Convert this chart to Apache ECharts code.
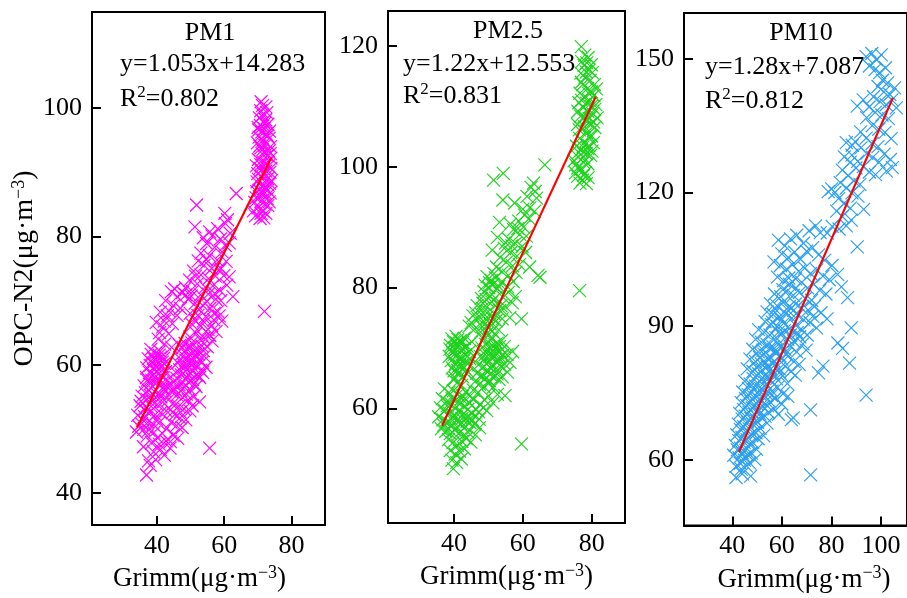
<!DOCTYPE html>
<html>
<head>
<meta charset="utf-8">
<script src="https://cdn.jsdelivr.net/npm/echarts@6/dist/echarts.min.js"></script>
<style>
  html, body { margin: 0; padding: 0; background: #fff; }
  #chart { width: 907px; height: 598px; }
</style>
</head>
<body>
<div id="chart"></div>
<script>
// Grimm (x) vs OPC-N2 (y) concentrations, µg/m³
const pm1Points = [
  // high-concentration column
  [71.0,101.0],[70.5,98.5],[71.5,99.0],[72.3,98.2],[70.8,97.3],[71.9,96.8],[73.0,97.5],[72.5,96.0],[70.4,95.5],[71.6,95.0],
  [73.4,95.3],[72.1,94.2],[70.9,93.8],[73.8,94.0],[71.3,92.9],[72.8,92.6],[70.2,92.0],[71.8,91.5],[73.2,91.0],[72.4,90.2],
  [70.6,90.6],[73.9,92.2],[71.1,89.4],[72.9,89.0],[69.8,88.5],[71.7,88.0],[73.5,88.3],[70.4,87.2],[72.2,86.8],[69.5,86.0],
  [71.0,85.5],[72.8,85.9],[73.7,86.8],[70.1,84.5],[71.5,84.0],[69.3,83.2],[72.4,83.6],[70.7,82.8],[73.0,84.8],[71.9,87.5],
  [70.0,89.8],[72.6,91.4],[71.4,93.5],[72.0,97.6],[70.9,99.6],[73.3,93.3],[69.9,94.6],[71.2,96.3],[72.7,99.3],[73.6,90.0],
  [74.0,88.7],[69.1,85.3],[68.7,84.0],
  [70.3,96.6],[71.7,97.9],[72.9,95.7],[70.6,94.1],[72.2,93.1],[73.7,92.9],[70.9,91.2],[72.0,89.8],[73.1,88.0],[70.2,88.9],
  [71.3,86.9],[72.6,87.4],[69.7,87.0],[71.0,83.6],[72.1,85.0],[73.4,85.4],[70.5,86.2],[71.8,82.9],[69.6,91.0],[73.9,90.6],
  [72.4,100.2],[71.4,100.4],[70.1,97.0],[73.5,96.4],[71.2,90.3],
  // upper band
  [51.8,84.9],[51.3,81.5],[63.6,86.7],[60.2,83.6],[61.0,82.6],[60.4,82.0],[55.7,80.7],[58.9,79.6],[60.3,78.6],[61.5,79.0],
  [59.4,77.6],[57.2,78.3],[54.8,78.9],[53.1,77.4],[55.6,77.0],[57.9,76.3],[60.6,76.1],[52.3,76.2],[54.0,75.5],[56.3,75.0],
  [58.6,74.8],[50.9,74.6],[53.1,74.0],[55.4,73.4],[57.4,73.8],[59.9,73.9],[49.7,73.2],[52.0,72.6],[54.4,72.1],[56.6,72.3],
  [62.6,70.6],[58.7,71.6],[60.8,72.4],[48.5,72.0],[50.6,71.4],[53.0,70.9],[55.3,71.0],[57.5,70.2],
  [53.8,79.8],[56.4,80.1],[58.1,81.2],[61.8,80.5],[59.0,75.0],[54.7,76.4],[51.5,73.8],
  // middle
  [44.3,71.4],[46.1,70.6],[47.6,71.3],[49.3,70.2],[51.4,69.6],[53.7,69.2],[55.8,68.8],[58.1,68.3],[42.6,70.0],[44.9,69.2],
  [47.0,68.8],[49.9,68.0],[52.2,67.7],[54.5,67.5],[56.9,67.0],[59.3,66.8],[41.0,68.2],[43.1,67.6],[44.6,66.4],[50.6,66.2],
  [53.0,66.0],[55.2,65.5],[57.6,65.2],[39.8,66.6],[41.7,65.9],[43.5,64.8],[49.8,64.3],[51.7,64.9],[54.0,64.2],[56.4,63.7],
  [55.7,64.6],[40.4,64.0],[42.3,63.2],[44.4,62.7],
  [45.3,71.8],[48.6,70.9],[50.2,70.7],[52.6,68.6],[54.8,69.9],[57.0,68.0],[43.6,68.4],[46.0,67.7],[51.4,66.9],[53.8,66.8],
  [56.3,66.1],[58.5,67.6],[42.2,66.8],[40.8,65.0],[52.8,64.0],[50.4,63.4],[55.0,62.8],[57.2,71.1],[59.0,70.0],[61.5,73.7],
  // left band
  [38.2,62.4],[39.6,61.8],[40.9,62.1],[42.0,61.0],[37.4,60.9],[38.8,60.3],[40.2,60.6],[41.5,59.8],[39.1,59.2],[37.8,58.8],
  [40.6,58.6],[42.6,58.9],[36.9,58.0],[38.5,57.6],[39.9,57.3],[41.3,57.0],[43.1,57.6],[36.2,56.7],[37.7,56.0],[39.3,55.8],
  [40.8,55.5],[42.4,55.9],[35.6,55.1],[37.1,54.6],[38.6,54.3],[40.1,53.8],[41.7,54.2],[43.4,54.5],[35.0,53.6],[36.4,53.0],
  [37.9,52.6],[39.5,52.2],[41.1,52.5],[42.8,52.8],[34.3,52.1],[35.8,51.4],[37.3,51.0],[38.9,50.7],[40.5,50.9],[34.6,50.4],
  [36.1,49.9],[33.9,49.5],[44.1,53.0],[44.6,56.2],[39.0,61.0],[41.2,61.2],[37.0,59.5],[40.0,59.0],[38.0,57.0],[41.8,56.4],
  [38.3,61.6],[39.4,60.8],[40.7,61.5],[41.6,60.4],[38.0,59.9],[39.5,59.8],[40.9,59.4],[42.2,60.2],[37.2,57.6],[38.9,58.3],
  [40.3,57.9],[41.9,58.0],[36.6,55.6],[38.1,55.2],[39.6,54.9],[41.2,55.0],[42.9,56.6],[35.3,54.3],[36.8,53.4],[38.3,53.5],
  [39.9,51.5],[37.6,49.8],[35.4,50.8],
  // right band
  [46.8,63.0],[48.4,63.3],[50.1,62.8],[51.8,62.4],[53.4,62.9],[47.4,61.7],[49.2,61.4],[50.8,61.0],[52.5,60.8],[54.1,61.3],
  [46.2,60.3],[48.0,60.0],[49.7,59.6],[51.3,59.3],[53.0,59.1],[54.6,59.6],[45.6,58.8],[47.3,58.4],[48.9,58.0],[50.6,57.7],
  [52.3,58.3],[52.7,58.0],[45.0,57.3],[46.6,56.9],[48.2,56.5],[49.9,56.1],[51.6,56.6],[44.4,55.8],[46.0,55.3],[47.6,54.9],
  [49.3,54.5],[52.7,54.2],[50.9,55.0],[44.9,54.0],[46.5,53.5],[48.1,53.1],[49.8,52.8],[45.3,52.2],[46.9,51.7],[48.6,51.4],
  [44.2,51.0],[45.8,50.5],[47.5,50.2],[55.7,64.6],[50.0,60.2],[51.5,61.6],[48.5,59.0],[53.5,60.4],
  [47.5,62.6],[49.0,62.4],[50.6,62.0],[52.3,61.7],[47.0,60.9],[48.6,60.7],[50.3,60.4],[51.9,60.0],[53.8,62.2],[46.8,59.2],
  [48.3,59.6],[49.9,58.7],[51.7,58.4],[53.6,58.8],[45.9,57.9],[47.8,57.2],[49.4,57.3],[51.1,57.0],[45.4,56.1],[47.1,55.9],
  [48.8,55.4],[50.5,53.6],[47.0,52.6],[44.7,52.6],
  // low tail and outliers
  [43.9,47.0],[39.0,46.4],[36.9,42.8],[37.5,45.0],[38.4,47.8],[40.2,48.6],[41.6,49.3],[42.7,48.1],[44.8,49.0],[46.2,48.5],
  [38.0,44.3],[39.6,45.2],[41.0,46.8],[42.2,45.9],[37.1,48.9],[36.0,47.2],[40.7,47.6],[43.0,50.1],[39.1,49.4],[36.3,51.9],
  [44.0,48.0],[55.7,47.0],[72.0,68.3]
];

const pm25Points = [
  // high-concentration column
  [77.0,119.9],[77.8,116.8],[78.6,117.2],[79.3,116.0],[76.9,115.5],[78.1,114.8],[79.6,114.3],[80.2,115.6],[77.4,113.6],[78.8,113.0],
  [80.0,112.4],[76.6,112.2],[77.9,111.5],[79.3,111.0],[80.6,111.8],[81.2,110.3],[76.3,110.6],[77.6,109.8],[78.9,109.2],[80.3,108.8],
  [81.6,108.1],[76.8,108.4],[78.2,107.7],[79.6,107.1],[80.9,106.5],[75.9,107.0],[77.3,106.2],[78.6,105.6],[80.0,105.1],[76.5,104.7],
  [77.9,104.0],[79.2,103.5],[75.6,103.4],[77.0,102.8],[78.4,102.2],[79.7,101.9],[76.1,101.6],[77.5,100.8],[78.9,100.5],[75.4,100.3],
  [76.8,99.6],[78.1,99.0],[75.9,98.4],[77.3,97.8],[78.5,97.2],[80.8,113.6],[81.4,112.9],[79.0,118.1],[78.0,118.5],[80.5,104.0],
  [74.9,101.0],[75.3,99.0],
  [77.1,117.4],[79.9,116.9],[78.4,115.7],[77.0,114.0],[79.1,112.2],[80.9,109.5],[77.1,111.0],[78.6,110.5],[79.9,110.0],[76.0,109.2],
  [77.8,108.3],[79.3,108.0],[80.6,107.4],[76.4,106.1],[78.0,106.6],[79.3,105.0],[77.5,103.3],[78.9,103.0],[76.2,102.4],[80.1,102.6],
  [77.6,101.6],[76.0,99.8],[77.7,98.6],[79.0,98.2],[76.6,97.3],
  // upper band
  [51.5,97.8],[54.3,98.9],[66.4,100.3],[54.2,94.5],[57.6,94.0],[63.1,97.3],[63.6,95.9],[62.4,96.6],[61.2,95.1],[64.0,94.8],
  [62.0,93.2],[60.5,92.0],[61.8,91.4],[63.4,92.6],[58.8,91.0],[60.2,90.0],[57.3,89.6],[59.1,88.8],[61.0,88.5],[55.9,88.0],
  [57.8,87.3],[59.8,86.8],[54.6,86.5],[56.5,85.8],[58.3,85.2],[60.8,85.8],[62.0,83.4],[65.0,81.7],[53.4,85.0],[55.2,84.2],
  [57.0,83.6],[52.3,83.4],[54.0,82.6],[55.8,82.0],[58.0,82.5],[56.4,90.5],[53.2,90.8],[52.6,88.3],[51.1,86.2],
  [55.6,80.1],[57.2,81.0],[59.0,83.8],[56.8,86.9],[55.0,87.4],[58.6,89.8],[60.0,93.0],
  // middle
  [49.6,81.8],[50.8,81.2],[52.0,81.6],[51.3,80.5],[50.1,80.0],[52.6,79.8],[48.7,79.3],[53.8,80.9],[47.9,78.2],[49.4,78.0],
  [51.0,77.6],[52.6,77.3],[54.2,78.4],[55.8,79.2],[46.7,77.0],[48.3,76.5],[49.9,76.0],[51.6,75.7],[53.3,76.2],[55.0,76.8],
  [56.9,77.5],[45.5,75.3],[47.1,74.8],[48.8,74.3],[50.5,74.0],[52.2,74.5],[54.0,74.8],[59.6,74.8],[64.4,82.0],[44.4,73.6],
  [46.0,73.1],[47.7,72.6],[49.4,72.3],[51.1,72.8],[53.0,73.0],[56.2,75.0],[57.8,78.5],
  [50.3,80.8],[51.6,82.3],[53.0,80.2],[49.0,80.4],[48.4,77.4],[50.5,78.6],[52.0,78.3],[53.6,77.0],[46.3,75.8],[47.9,75.6],
  [49.6,75.1],[51.4,74.8],[45.0,74.2],[48.2,73.5],[50.0,73.3],
  // left cluster
  [39.4,71.5],[40.6,71.9],[41.8,71.2],[43.0,71.6],[39.0,70.4],[40.2,70.0],[41.4,70.5],[42.6,69.8],[43.8,70.3],[39.6,69.2],
  [40.9,68.8],[42.1,68.4],[43.3,68.9],[44.5,69.4],[39.2,67.9],[40.4,67.4],[41.6,67.1],[42.9,66.7],[44.1,67.6],[40.0,66.2],
  [41.2,65.8],[42.5,65.2],[43.7,65.7],[39.7,64.8],[41.0,64.3],[42.2,63.8],[45.2,71.0],[38.6,68.6],[40.8,70.8],[41.9,69.6],
  [39.8,71.0],[41.1,71.4],[42.4,70.9],[40.0,68.9],[41.4,68.3],[42.8,68.0],[39.5,66.7],[41.0,66.3],[42.3,67.2],[43.6,66.3],
  [40.4,65.0],[44.6,68.2],[38.8,69.8],[43.2,70.0],
  // right cluster
  [48.6,71.4],[49.9,71.0],[51.2,71.6],[52.5,70.8],[53.8,71.2],[48.1,70.0],[49.4,69.6],[50.7,69.2],[52.0,69.9],[53.3,69.4],
  [54.6,70.2],[47.6,68.6],[48.9,68.2],[50.2,67.8],[51.5,68.5],[52.8,68.0],[54.1,68.7],[55.4,68.9],[47.1,67.2],[48.4,66.8],
  [49.7,66.4],[51.0,67.0],[52.3,66.6],[53.6,66.9],[46.6,65.8],[47.9,65.4],[49.2,65.0],[50.5,65.6],[51.8,65.2],[53.1,64.8],
  [46.1,64.4],[47.4,64.0],[48.7,63.6],[50.0,64.1],[51.4,63.5],[54.8,62.1],[45.6,63.0],[47.0,62.6],[56.3,67.6],[57.0,69.4],
  [49.2,70.6],[50.5,70.1],[51.9,70.5],[53.2,70.2],[49.0,68.9],[50.4,68.6],[51.8,69.0],[53.4,68.5],[49.5,67.3],[50.8,66.6],
  [52.6,67.6],[54.7,67.3],[48.2,65.2],[50.2,64.6],[52.5,65.7],[55.5,66.0],[54.0,65.2],
  // lower band
  [37.2,63.2],[38.5,62.6],[39.8,62.9],[41.1,62.3],[43.4,62.7],[44.6,62.0],[36.6,61.6],[37.9,61.1],[39.2,60.7],[40.5,61.3],
  [41.8,60.8],[43.1,60.4],[44.4,60.9],[45.7,61.5],[36.0,60.1],[37.3,59.6],[38.6,59.2],[39.9,58.8],[41.2,59.5],[42.5,59.0],
  [43.8,58.6],[45.1,59.2],[46.4,59.8],[35.5,58.6],[36.8,58.1],[38.1,57.7],[39.4,57.3],[40.7,57.9],[42.0,57.4],[43.3,57.0],
  [44.6,57.6],[47.6,60.6],[48.8,61.4],[50.0,62.0],[36.3,56.6],[37.6,56.2],[38.9,55.8],[40.2,56.4],[41.5,55.9],[42.8,55.5],
  [44.1,56.0],[46.0,57.4],[47.3,58.2],[49.5,59.6],[51.3,60.9],[52.6,62.3],
  [38.0,60.4],[39.4,61.6],[40.8,60.2],[42.2,61.6],[39.2,58.2],[40.6,58.6],[42.3,58.3],[44.0,59.8],[37.0,57.2],[38.5,56.6],
  [41.0,56.8],[43.8,57.8],[45.3,58.1],[47.2,59.4],[48.6,60.1],[42.5,62.0],
  // low tail and outliers
  [38.4,54.8],[39.7,54.3],[41.0,53.9],[42.3,54.5],[43.6,55.0],[44.9,54.4],[38.9,53.0],[40.3,52.4],[41.6,52.9],[43.0,53.3],
  [39.4,51.4],[40.8,51.0],[42.1,51.6],[39.8,50.0],[46.2,55.6],[47.4,56.8],[59.6,54.1],[76.5,79.5]
];

const pm10Points = [
  // top
  [94.0,150.5],[96.3,151.2],[98.2,149.8],[100.1,150.9],[95.3,148.4],[97.6,147.6],[99.5,146.9],[101.8,148.0],[100.6,145.2],[102.7,144.6],
  [98.8,143.8],[101.2,142.6],[103.6,142.0],[97.0,141.5],[99.6,140.4],[102.1,139.7],[104.4,140.8],[105.5,143.5],[95.2,139.2],[97.7,138.0],
  [100.4,137.4],[103.0,136.6],[92.8,140.8],[106.2,139.0],[90.4,139.4],[94.2,136.8],[96.5,135.0],[99.1,134.2],[101.6,133.5],[104.1,132.1],
  [91.8,133.6],[94.0,132.2],[96.4,131.0],[98.8,130.3],[101.3,128.6],[103.8,127.4],[89.6,131.4],[91.9,130.0],[94.3,128.8],[96.7,127.9],
  [99.2,126.8],[88.3,128.4],[90.6,127.0],[92.9,125.8],[95.3,124.6],[97.8,124.0],[102.2,124.8],[104.6,125.6],
  // middle
  [86.0,131.2],[88.4,130.6],[85.2,128.0],[87.6,126.8],[89.9,125.5],[84.4,125.0],[86.8,123.8],[89.1,122.6],[91.5,121.8],[83.6,122.2],
  [86.0,121.0],[88.3,119.9],[90.7,119.2],[93.0,116.2],[78.7,120.2],[80.1,120.8],[81.4,120.0],[82.9,118.6],[85.2,117.6],[87.6,116.5],
  [82.1,115.8],[84.4,114.6],[88.0,113.8],[80.3,112.4],[83.1,111.8],[86.0,112.5],[90.4,107.8],
  // lower-middle
  [58.6,109.3],[61.2,108.0],[63.5,109.6],[66.0,110.4],[68.7,108.6],[73.6,112.5],[75.5,111.0],[78.3,110.9],[71.0,111.4],[60.0,106.2],
  [62.6,105.4],[65.1,106.6],[67.5,105.0],[70.0,106.8],[72.4,107.6],[74.8,106.0],[77.3,104.8],[80.2,103.6],[56.8,104.4],[59.4,103.6],
  [61.9,102.8],[64.3,103.8],[66.8,102.3],[69.2,103.0],[71.6,101.8],[74.1,102.6],[76.6,101.2],[79.1,100.4],[82.5,101.6],[58.2,101.0],
  [60.7,100.2],[63.1,99.4],[65.6,100.6],[68.0,99.8],[70.4,98.6],[72.9,99.4],[75.3,98.0],[77.8,97.2],[84.0,98.8],[86.5,96.4],
  // main body
  [57.0,97.2],[59.5,96.6],[62.0,97.8],[64.6,96.9],[67.1,97.5],[69.5,96.2],[72.0,95.8],[55.4,95.0],[58.0,94.6],[60.5,95.3],
  [63.0,94.4],[65.5,95.0],[68.0,94.0],[70.6,93.6],[73.1,94.4],[75.8,93.0],[54.0,93.2],[56.5,92.6],[59.0,92.1],[61.5,92.9],
  [64.0,91.8],[66.4,92.4],[68.9,91.4],[71.4,90.8],[78.2,91.6],[53.2,91.0],[55.7,90.4],[58.2,89.9],[60.7,90.6],[63.2,89.5],
  [65.7,90.1],[68.2,89.1],[74.0,89.6],
  [58.5,88.6],[61.0,89.0],[63.4,88.0],[56.2,90.9],[59.8,91.4],[62.7,93.4],[57.3,93.8],[64.8,93.6],[60.4,98.2],[62.8,100.8],
  [65.7,98.6],[66.2,88.5],[68.5,86.0],[70.2,88.0],[72.5,92.2],[69.8,84.6],[67.0,81.4],[65.4,79.0],[62.2,77.1],[60.0,72.5],
  [58.6,70.2],[62.4,74.2],
  [50.6,89.2],[52.9,88.6],[55.2,88.0],[57.6,87.4],[60.0,88.2],[62.4,87.0],[64.8,86.6],[67.2,87.6],[49.4,87.0],[51.7,86.4],
  [54.0,85.9],[56.4,85.3],[58.8,86.0],[61.2,84.8],[63.6,85.4],[66.0,84.2],[48.2,84.8],[50.5,84.2],[52.8,83.7],[55.2,83.1],
  [57.6,83.9],[60.0,82.6],[62.4,83.2],[64.9,82.0],[76.6,81.0],[47.1,82.6],[49.4,82.0],[51.7,81.5],[54.1,80.9],[56.5,81.7],
  [58.9,80.4],[61.3,81.0],[63.7,79.8],[46.0,80.4],[48.3,79.8],[50.6,79.3],[53.0,78.7],[55.4,79.5],[57.8,78.2],[60.2,78.8],
  [55.0,85.0],[57.3,84.5],[59.6,85.2],[52.4,84.6],[54.7,82.4],[56.9,82.1],[59.2,83.3],[61.7,83.8],[51.0,82.9],[53.3,81.9],
  [55.6,80.4],[57.9,80.8],[49.7,80.8],[52.0,80.1],[54.3,78.5],[56.7,79.2],[59.1,79.6],
  [88.0,89.6],[82.6,86.2],[84.5,85.0],[87.3,81.7],[74.8,79.5],
  [45.0,77.6],[47.2,77.0],[49.4,76.5],[51.6,75.9],[53.8,76.8],[56.0,75.4],[58.2,76.2],[44.2,75.2],[46.4,74.6],[48.6,74.1],
  [50.8,73.5],[53.0,74.3],[55.2,73.0],[57.4,73.8],[60.5,74.8],[43.6,72.8],[45.8,72.2],[48.0,71.6],[50.2,71.1],[52.4,71.9],
  [54.6,70.6],[56.8,71.4],[43.0,70.4],[45.2,69.8],[47.4,69.3],[49.6,68.7],[51.8,69.5],[54.0,68.2],[42.4,68.0],[44.6,67.4],
  [46.8,66.9],[49.0,66.3],[51.2,67.1],[64.6,69.4],[71.6,71.2],[63.8,69.0],
  [48.4,78.2],[50.9,77.7],[53.1,77.4],[55.3,77.9],[57.0,76.9],[46.5,76.0],[48.8,75.6],[51.0,74.8],[53.5,75.0],[55.8,74.4],
  [45.3,73.7],[47.5,73.1],[49.8,72.6],[52.0,73.2],[54.2,72.1],[44.5,71.3],[46.7,70.7],[48.9,70.2],[51.1,70.3],[53.2,69.8],
  [44.0,69.1],[46.1,68.5],[48.2,68.0],[50.2,68.4],[43.2,66.8],[45.3,66.3],[47.5,65.7],[49.6,66.0],
  [41.8,65.6],[43.9,65.0],[46.0,64.5],[48.2,63.9],[50.4,64.7],[52.6,65.4],[41.2,63.2],[43.3,62.6],[45.4,62.1],[47.6,61.5],
  [49.8,62.3],[40.6,61.0],[42.7,60.4],[44.8,59.9],[47.0,59.3],[49.1,60.0],[41.5,58.5],[43.6,57.9],[45.7,58.6],[41.5,56.0],
  [47.4,56.3],[44.0,56.8],[42.6,64.3],[44.8,63.9],[46.9,63.5],[42.0,62.2],[44.0,61.6],[46.2,61.1],[43.2,59.2],[45.1,60.6],
  // outliers
  [94.0,74.5],[71.6,56.6]
];

// Panel labels, fit coefficients, R² and the x-span of each fitted line
const panelTitles = ['PM1', 'PM2.5', 'PM10'];
const fitSlopes = [1.053, 1.22, 1.28];
const fitIntercepts = [14.283, 12.553, 7.087];
const fitR2 = ['0.802', '0.831', '0.812'];
const fitXSpans = [[34.1, 74.1], [36.5, 81.2], [42.7, 104.8]];

// Axis extents and tick values
const xExtents = [[20.7, 90], [20.8, 89.7], [20.5, 110.5]];
const yExtents = [[35, 115], [41, 125.8], [45.2, 160.3]];
const xTickValues = [[40, 60, 80], [40, 60, 80], [40, 60, 80, 100]];
const yTickValues = [[40, 60, 80, 100], [60, 80, 100, 120], [60, 90, 120, 150]];

const markerColors = ['#FF00FF', '#1ED21E', '#2A9FF0'];

const FONT = "'Liberation Serif', 'Times New Roman', serif";
const CROSS_HALF = 6.5;

const grids = [
  { left: 92, top: 12, width: 233, height: 513 },
  { left: 388, top: 11, width: 237, height: 512 },
  { left: 684, top: 13, width: 230, height: 513 }
];
const xNamePadding = [[0, 18, 0, 0], [0, 0, 0, 0], [0, 0, 0, 17]];
const textBlocks = [
  { cx: 210, titleY: 33, left: 120, eqY: 64, r2Y: 99 },
  { cx: 508, titleY: 31, left: 403, eqY: 64, r2Y: 96 },
  { cx: 801, titleY: 33, left: 705, eqY: 67, r2Y: 101 }
];

const supRich = {
  s: { fontSize: 18, fontFamily: FONT, color: '#000', verticalAlign: 'top', lineHeight: 30 }
};

const axisCommon = {
  axisLine: { show: true, onZero: false, lineStyle: { color: '#000', width: 2 } },
  axisTick: { show: true, inside: true, length: 9, lineStyle: { color: '#000', width: 2 } },
  splitLine: { show: false }
};

const xAxes = grids.map((g, i) => Object.assign({}, axisCommon, {
  type: 'value', gridIndex: i,
  min: xExtents[i][0], max: xExtents[i][1],
  axisTick: Object.assign({}, axisCommon.axisTick, { customValues: xTickValues[i] }),
  axisLabel: { customValues: xTickValues[i], fontSize: 26, fontFamily: FONT, color: '#000', margin: 8 },
  name: 'Grimm(μg·m{s|−3})',
  nameLocation: 'middle', nameGap: 37,
  nameTextStyle: { fontSize: 27, fontFamily: FONT, color: '#000', padding: xNamePadding[i], rich: supRich }
}));

const yAxes = grids.map((g, i) => Object.assign({}, axisCommon, {
  type: 'value', gridIndex: i,
  min: yExtents[i][0], max: yExtents[i][1],
  axisTick: Object.assign({}, axisCommon.axisTick, { customValues: yTickValues[i] }),
  axisLabel: { customValues: yTickValues[i], fontSize: 26, fontFamily: FONT, color: '#000', margin: 10 },
  name: i === 0 ? 'OPC-N2(μg·m{s|−3})' : '',
  nameLocation: 'middle', nameGap: 39,
  nameTextStyle: { fontSize: 28, fontFamily: FONT, color: '#000', rich: supRich }
}));

const pointSets = [pm1Points, pm25Points, pm10Points];

// Each sample is drawn as an open "×" centred on its data coordinate
function crossRenderer(color) {
  return function (params, api) {
    const p = api.coord([api.value(0), api.value(1)]);
    const h = CROSS_HALF;
    const style = { stroke: color, lineWidth: 1.15, fill: null };
    return {
      type: 'group',
      children: [
        { type: 'line', shape: { x1: p[0] - h, y1: p[1] - h, x2: p[0] + h, y2: p[1] + h }, style: style },
        { type: 'line', shape: { x1: p[0] - h, y1: p[1] + h, x2: p[0] + h, y2: p[1] - h }, style: style }
      ]
    };
  };
}

const series = [];
pointSets.forEach((pts, i) => {
  series.push({
    type: 'custom', xAxisIndex: i, yAxisIndex: i, data: pts,
    renderItem: crossRenderer(markerColors[i]), silent: true, z: 2, clip: false
  });
});
pointSets.forEach((pts, i) => {
  const fitLine = fitXSpans[i].map(x => [x, fitSlopes[i] * x + fitIntercepts[i]]);
  series.push({
    type: 'line', xAxisIndex: i, yAxisIndex: i, data: fitLine,
    symbol: 'none', silent: true, z: 3,
    lineStyle: { color: '#FF0000', width: 2.2 }
  });
});

const graphics = [];
textBlocks.forEach((b, i) => {
  graphics.push({
    type: 'text', x: b.cx, y: b.titleY, z: 10,
    style: { text: panelTitles[i], fontSize: 26, fontFamily: FONT, fill: '#000', align: 'center', verticalAlign: 'middle' }
  });
  graphics.push({
    type: 'text', x: b.left, y: b.eqY, z: 10,
    style: { text: 'y=' + fitSlopes[i] + 'x+' + fitIntercepts[i], fontSize: 26, fontFamily: FONT, fill: '#000', align: 'left', verticalAlign: 'middle' }
  });
  graphics.push({
    type: 'text', x: b.left, y: b.r2Y, z: 10,
    style: {
      text: 'R{s|2}=' + fitR2[i], fontSize: 26, fontFamily: FONT, fill: '#000', align: 'left', verticalAlign: 'middle',
      rich: { s: { fontSize: 17, fontFamily: FONT, fill: '#000', verticalAlign: 'top', lineHeight: 30 } }
    }
  });
});

const chart = echarts.init(document.getElementById('chart'), null, { renderer: 'canvas' });
chart.setOption({
  animation: false,
  backgroundColor: '#fff',
  grid: grids.map(g => Object.assign({ show: true, borderColor: '#000', borderWidth: 2, backgroundColor: 'transparent', containLabel: false }, g)),
  xAxis: xAxes,
  yAxis: yAxes,
  series: series,
  graphic: graphics
});
</script>
</body>
</html>
